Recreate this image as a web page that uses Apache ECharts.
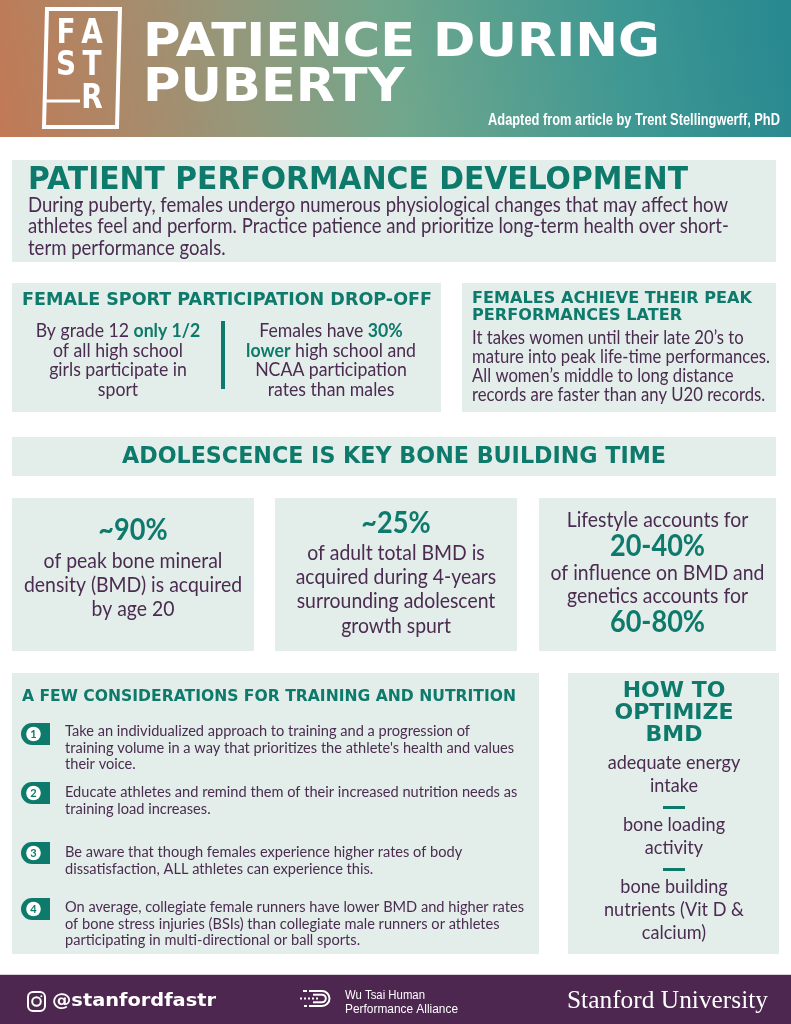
<!DOCTYPE html>
<html>
<head>
<meta charset="utf-8">
<script src="https://cdn.jsdelivr.net/npm/echarts@6/dist/echarts.min.js"></script>
<style>
  html, body { margin: 0; padding: 0; background: #fff; }
  #poster { width: 791px; height: 1024px; }
</style>
</head>
<body>
<div id="poster"></div>
<script>
// ---- content ----
const titleLines = ['PATIENCE DURING', 'PUBERTY']
const logoRows = [['F', 'A'], ['S', 'T'], ['', 'R']]
const credit = 'Adapted from article by Trent Stellingwerff, PhD'

const introTitle = 'PATIENT PERFORMANCE DEVELOPMENT'
const introLines = [
  'During puberty, females undergo numerous physiological changes that may affect how',
  'athletes feel and perform. Practice patience and prioritize long-term health over short-',
  'term performance goals.'
]

const dropTitle = 'FEMALE SPORT PARTICIPATION DROP-OFF'
const dropLeft = ['By grade 12 {b|only 1/2}', 'of all high school', 'girls participate in', 'sport']
const dropRight = ['Females have {b|30%}', '{b|lower} high school and', 'NCAA participation', 'rates than males']

const peakTitle = ['FEMALES ACHIEVE THEIR PEAK', 'PERFORMANCES LATER']
const peakLines = [
  'It takes women until their late 20\u2019s to',
  'mature into peak life-time performances.',
  'All women\u2019s middle to long distance',
  'records are faster than any U20 records.'
]

const boneTitle = 'ADOLESCENCE IS KEY BONE BUILDING TIME'
const boneStats = [
  ['{n|~90%}', 'of peak bone mineral', 'density (BMD) is acquired', 'by age 20'],
  ['{n|~25%}', 'of adult total BMD is', 'acquired during 4-years', 'surrounding adolescent', 'growth spurt'],
  ['Lifestyle accounts for', '{n|20-40%}', 'of influence on BMD and', 'genetics accounts for', '{n|60-80%}']
]

const tipsTitle = 'A FEW CONSIDERATIONS FOR TRAINING AND NUTRITION'
const tipNumbers = ['1', '2', '3', '4']
const tips = [
  ['Take an individualized approach to training and a progression of',
   'training volume in a way that prioritizes the athlete\'s health and values',
   'their voice.'],
  ['Educate athletes and remind them of their increased nutrition needs as',
   'training load increases.'],
  ['Be aware that though females experience higher rates of body',
   'dissatisfaction, ALL athletes can experience this.'],
  ['On average, collegiate female runners have lower BMD and higher rates',
   'of bone stress injuries (BSIs) than collegiate male runners or athletes',
   'participating in multi-directional or ball sports.']
]

const optTitle = ['HOW TO', 'OPTIMIZE', 'BMD']
const optItems = [
  ['adequate energy', 'intake'],
  ['bone loading', 'activity'],
  ['bone building', 'nutrients (Vit D &', 'calcium)']
]

const handle = '@stanfordfastr'
const partner = ['Wu Tsai Human', 'Performance Alliance']
const university = 'Stanford University'

// ---- look ----
const teal = '#0d7a6b'
const purple = '#4b2c50'
const panel = '#e3edea'
const footerBg = '#4d2750'
const head = '"DejaVu Sans", sans-serif'
const body = 'Lato, sans-serif'

let ctx = document.createElement('canvas').getContext('2d')
function widthOf(str, font) {
  ctx.font = font
  return ctx.measureText(str).width
}

function label(x, y, str, font, color, opt) {
  opt = opt || {}
  let el = {
    type: 'text', x: x, y: y, silent: true,
    style: { text: str, font: font, fill: color, align: opt.align || 'left', verticalAlign: 'middle' }
  }
  if (opt.rich) el.style.rich = opt.rich
  if (opt.width) el.scaleX = opt.width / widthOf(str, font)
  else if (opt.sx) el.scaleX = opt.sx
  return el
}

function box(x, y, w, h, fill) {
  return { type: 'rect', silent: true, shape: { x: x, y: y, width: w, height: h }, style: { fill: fill || panel } }
}

function stroke(points, width, dash) {
  return {
    type: 'polyline', silent: true, shape: { points: points },
    style: { stroke: '#fff', lineWidth: width, lineDash: dash || null, fill: 'none' }
  }
}

let els = []

// header
els.push({
  type: 'rect', silent: true,
  shape: { x: 0, y: 0, width: 791, height: 137 },
  style: {
    fill: new echarts.graphic.LinearGradient(0, 1, 1, 0, [
      { offset: 0, color: '#c27955' },
      { offset: 0.3, color: '#96977a' },
      { offset: 0.5, color: '#70a78c' },
      { offset: 0.78, color: '#3f9893' },
      { offset: 1, color: '#278890' }
    ])
  }
})
els.push({
  type: 'polygon', silent: true,
  shape: { points: [[47, 9], [120, 9], [117, 127], [44, 127]] },
  style: { fill: 'none', stroke: '#fff', lineWidth: 4 }
})
els.push(stroke([[45, 101], [80, 101]], 3))
let logoY = [34, 66, 99]
logoRows.forEach((row, i) => {
  row.forEach((ch, j) => {
    if (ch) els.push(label(j ? 92 : 66, logoY[i], ch, 'bold 34px ' + head, '#fff', { align: 'center', sx: 0.82 }))
  })
})
els.push(label(143, 44, titleLines[0], 'bold 46px ' + head, '#fff', { width: 517 }))
els.push(label(143, 89, titleLines[1], 'bold 46px ' + head, '#fff',
  { sx: 517 / widthOf(titleLines[0], 'bold 46px ' + head) }))
els.push(label(780, 120, credit, 'bold 17px "Liberation Sans", sans-serif', '#fff', { align: 'right', width: 292 }))

// intro
els.push(box(12, 160, 764, 102))
els.push(label(28, 181, introTitle, 'bold 32px ' + head, teal, { width: 660 }))
let introFont = '20.5px ' + body
let introSx = 700 / widthOf(introLines[0], introFont)
introLines.forEach((s, i) => els.push(label(28, 205 + i * 21.5, s, introFont, purple, { sx: introSx })))

// drop-off
els.push(box(12, 283, 429, 129))
els.push(label(22, 300, dropTitle, 'bold 17.5px ' + head, teal, { width: 410 }))
let dropFont = '19.5px ' + body
let dropSx = 130 / widthOf(dropLeft[1], dropFont)
let dropRich = { b: { font: 'bold 19.5px ' + body, fill: teal } }
dropLeft.forEach((s, i) => els.push(label(118, 331 + i * 19.5, s, dropFont, purple, { align: 'center', sx: dropSx, rich: dropRich })))
dropRight.forEach((s, i) => els.push(label(331, 331 + i * 19.5, s, dropFont, purple, { align: 'center', sx: dropSx, rich: dropRich })))
els.push(box(221, 321, 4, 68, teal))

// peak
els.push(box(462, 283, 314, 129))
let peakTitleFont = 'bold 16.5px ' + head
let peakTitleSx = 280 / widthOf(peakTitle[0], peakTitleFont)
peakTitle.forEach((s, i) => els.push(label(472, 299 + i * 17, s, peakTitleFont, teal, { sx: peakTitleSx })))
let peakFont = '18.5px ' + body
let peakSx = 298 / widthOf(peakLines[1], peakFont)
peakLines.forEach((s, i) => els.push(label(472, 338 + i * 19, s, peakFont, purple, { sx: peakSx })))

// bone building
els.push(box(12, 437, 764, 39))
els.push(label(394, 457, boneTitle, 'bold 23px ' + head, teal, { align: 'center', width: 544 }))
let statBoxes = [[12, 242], [275, 242], [539, 237]]
let statRows = [[530, 561, 585, 609], [523, 553, 577, 601, 626], [520, 546, 573, 596, 622]]
let statFont = '21.5px ' + body
let statSx = 218 / widthOf(boneStats[0][2], statFont)
let statRich = { n: { font: 'bold 30px ' + body, fill: teal } }
boneStats.forEach((lines, k) => {
  let b = statBoxes[k]
  els.push(box(b[0], 498, b[1], 153))
  lines.forEach((s, i) => els.push(label(b[0] + b[1] / 2, statRows[k][i], s, statFont, purple,
    { align: 'center', sx: statSx, rich: statRich })))
})

// considerations
els.push(box(12, 673, 527, 281))
els.push(label(22, 697, tipsTitle, 'bold 15px ' + head, teal, { width: 494 }))
let tipFont = '15.5px ' + body
let tipSx = 459 / widthOf(tips[3][0], tipFont)
let tipTops = [731, 792, 852, 907]
let badgeMid = [734, 793, 853, 909]
tips.forEach((lines, k) => {
  els.push({
    type: 'rect', silent: true,
    shape: { x: 21, y: badgeMid[k] - 11, width: 29, height: 22, r: [11, 0, 0, 11] },
    style: { fill: teal }
  })
  els.push({ type: 'circle', silent: true, shape: { cx: 33.5, cy: badgeMid[k], r: 7.3 }, style: { fill: '#fff' } })
  els.push(label(33.5, badgeMid[k] + 0.5, tipNumbers[k], 'bold 11px ' + body, teal, { align: 'center' }))
  lines.forEach((s, i) => els.push(label(65, tipTops[k] + i * 16.5, s, tipFont, purple, { sx: tipSx })))
})

// optimize
els.push(box(568, 673, 211, 281))
let optTitleFont = 'bold 22px ' + head
let optTitleSx = 119 / widthOf(optTitle[1], optTitleFont)
optTitle.forEach((s, i) => els.push(label(674, 691 + i * 22, s, optTitleFont, teal, { align: 'center', sx: optTitleSx })))
let optFont = '20px ' + body
let optSx = 140 / widthOf(optItems[2][1], optFont)
let optTops = [763, 825, 887]
optItems.forEach((lines, k) => {
  lines.forEach((s, i) => els.push(label(674, optTops[k] + i * 23, s, optFont, purple, { align: 'center', sx: optSx })))
  if (k < optItems.length - 1) els.push(box(663, optTops[k] + 43, 22, 3, teal))
})

// footer
els.push(box(0, 974, 791, 1, '#d9d1da'))
els.push(box(0, 975, 791, 49, footerBg))
els.push({
  type: 'rect', silent: true,
  shape: { x: 28, y: 992, width: 17, height: 19, r: 5 },
  style: { fill: 'none', stroke: '#fff', lineWidth: 2 }
})
els.push({ type: 'circle', silent: true, shape: { cx: 36.5, cy: 1001.5, r: 4.3 }, style: { fill: 'none', stroke: '#fff', lineWidth: 2 } })
els.push({ type: 'circle', silent: true, shape: { cx: 41.3, cy: 996.2, r: 1 }, style: { fill: '#fff' } })
els.push(label(52, 1001, handle, 'bold 18px ' + head, '#fff', { width: 164 }))

// wu tsai mark
;[7.5, 3.8].forEach(r => {
  els.push({
    type: 'arc', silent: true,
    shape: { cx: 322, cy: 998.5, r: r, startAngle: -Math.PI / 2, endAngle: Math.PI / 2, clockwise: true },
    style: { fill: 'none', stroke: '#fff', lineWidth: 2 }
  })
})
els.push(stroke([[309, 991], [322, 991]], 2))
els.push(stroke([[309, 1006], [322, 1006]], 2))
els.push(stroke([[313, 994.7], [322, 994.7]], 2))
els.push(stroke([[313, 1002.3], [322, 1002.3]], 2))
els.push(stroke([[300, 998.5], [318, 998.5]], 2, [2, 2]))
els.push(stroke([[303, 991], [307, 991]], 2))
els.push(stroke([[304, 1006], [307, 1006]], 2))
els.push(label(345, 996, partner[0], '12.5px "Liberation Sans", sans-serif', '#fff', { width: 80 }))
els.push(label(345, 1009.5, partner[1], '12.5px "Liberation Sans", sans-serif', '#fff', { width: 113 }))
els.push(label(567, 1001, university, '25px "Liberation Serif", serif', '#fff', { width: 201 }))

let chart = echarts.init(document.getElementById('poster'))
chart.setOption({
  animation: false,
  graphic: { elements: els }
})
</script>
</body>
</html>
